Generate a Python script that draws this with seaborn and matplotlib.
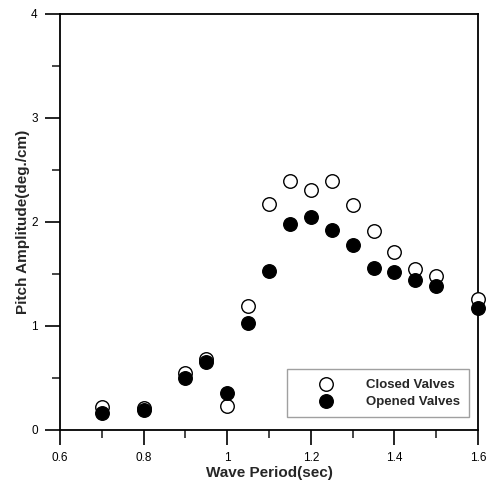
import matplotlib
matplotlib.use("Agg")
import matplotlib.pyplot as plt
import seaborn as sns
import pandas as pd
from matplotlib.ticker import MultipleLocator

periods = [0.7, 0.8, 0.9, 0.95, 1.0, 1.05, 1.1, 1.15, 1.2, 1.25, 1.3, 1.35, 1.4, 1.45, 1.5, 1.6]
closed = [0.22, 0.21, 0.55, 0.68, 0.23, 1.19, 2.17, 2.39, 2.31, 2.39, 2.16, 1.91, 1.71, 1.55, 1.48, 1.26]
opened = [0.16, 0.19, 0.50, 0.65, 0.36, 1.03, 1.53, 1.98, 2.05, 1.92, 1.78, 1.56, 1.52, 1.44, 1.38, 1.17]

df_c = pd.DataFrame({"period": periods, "amp": closed})
df_o = pd.DataFrame({"period": periods, "amp": opened})

sns.set_style("ticks")
plt.rcParams["font.family"] = ["Liberation Sans", "DejaVu Sans"]

fig = plt.figure(figsize=(4.93, 4.84), dpi=100)
ax = fig.add_axes([60/493, 54/484, 418/493, 416/484])

sns.scatterplot(data=df_c, x="period", y="amp", ax=ax, s=95, marker="o",
                facecolor="white", edgecolor="black", linewidth=1.0,
                label="Closed Valves", clip_on=False, zorder=3)
sns.scatterplot(data=df_o, x="period", y="amp", ax=ax, s=95, marker="o",
                facecolor="black", edgecolor="black", linewidth=1.0,
                label="Opened Valves", clip_on=False, zorder=4)

ax.set_xlim(0.6, 1.6)
ax.set_ylim(0, 4)
ax.xaxis.set_minor_locator(MultipleLocator(0.1))
ax.yaxis.set_minor_locator(MultipleLocator(0.5))
ax.set_xticks([0.6, 0.8, 1.0, 1.2, 1.4, 1.6])
ax.set_xticklabels(["0.6", "0.8", "1", "1.2", "1.4", "1.6"])
ax.set_yticks([0, 1, 2, 3, 4])
ax.set_yticklabels(["0", "1", "2", "3", "4"])
ax.tick_params(which="major", direction="out", length=11, width=1.2, labelsize=8.5, pad=5,
               top=False, right=False, colors="black")
ax.tick_params(which="minor", direction="out", length=5.5, width=1.2, top=False, right=False)
for sp in ax.spines.values():
    sp.set_visible(True)
    sp.set_linewidth(1.3)
    sp.set_color("black")

ax.set_xlabel("Wave Period(sec)", fontsize=11, fontweight="bold", labelpad=1)
ax.set_ylabel("Pitch Amplitude(deg./cm)", fontsize=11, fontweight="bold", labelpad=1)

leg = ax.legend(loc="lower right", bbox_to_anchor=((469-60)/418, (430-417)/416),
                borderaxespad=0, frameon=True, fancybox=False, fontsize=9.5, markerscale=1.0,
                handletextpad=0.7, borderpad=0.7, labelspacing=0.35, handlelength=4.6)
leg.get_frame().set_edgecolor("#888888")
leg.get_frame().set_linewidth(1.0)
for t in leg.get_texts():
    t.set_fontweight("bold")

fig.savefig("out.png", dpi=100)
